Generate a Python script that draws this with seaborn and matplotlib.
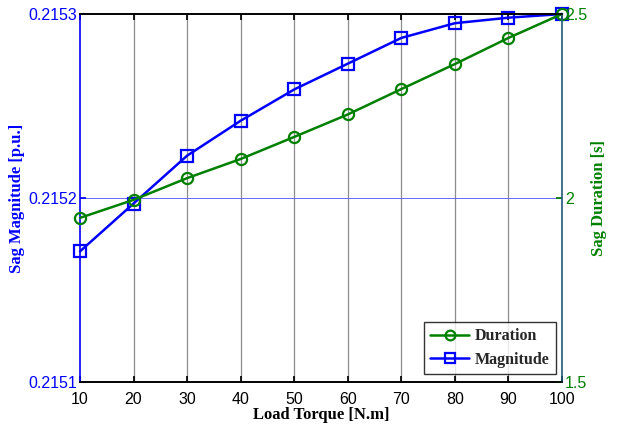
import matplotlib
matplotlib.use("Agg")
import matplotlib.pyplot as plt
import seaborn as sns
import pandas as pd
from matplotlib.lines import Line2D

# Load torque sweep and resulting sag characteristics
torque = [10, 20, 30, 40, 50, 60, 70, 80, 90, 100]
magnitude = [0.215171, 0.215197, 0.215223, 0.215242, 0.215259,
             0.215273, 0.215287, 0.215295, 0.215298, 0.215300]
duration = [1.946, 1.995, 2.054, 2.106, 2.166, 2.227, 2.296, 2.364, 2.435, 2.500]

x_ticks = [10, 20, 30, 40, 50, 60, 70, 80, 90, 100]
mag_ticks = [0.2151, 0.2152, 0.2153]
mag_tick_labels = ["0.2151", "0.2152", "0.2153"]
dur_ticks = [1.5, 2.0, 2.5]
dur_tick_labels = ["1.5", "2", "2.5"]

df = pd.DataFrame({"torque": torque, "magnitude": magnitude, "duration": duration})

sns.set_theme(style="white")
plt.rcParams["font.family"] = ["Liberation Sans", "DejaVu Sans"]

blue = "#0000ff"
green = "#008000"
serif = ["Liberation Serif", "DejaVu Serif"]

fig = plt.figure(figsize=(6.2, 4.28), dpi=100)
ax = fig.add_axes([80 / 620, 46 / 428, 482 / 620, 368 / 428])
ax2 = ax.twinx()

# vertical grid at each torque value, single horizontal guide at mid level
for xv in x_ticks[1:-1]:
    ax.axvline(xv, color="#8c8c8c", lw=0.9, zorder=0)
ax.axhline(mag_ticks[1], color="#5050ff", lw=0.6, zorder=0)

sns.lineplot(data=df, x="torque", y="magnitude", ax=ax, color=blue, lw=1.8,
             marker="s", markersize=8, markerfacecolor="none",
             markeredgecolor=blue, markeredgewidth=1.6, clip_on=False)
sns.lineplot(data=df, x="torque", y="duration", ax=ax2, color=green, lw=1.8,
             marker="o", markersize=8, markerfacecolor="none",
             markeredgecolor=green, markeredgewidth=1.6, clip_on=False)

ax.set_xlim(10, 100)
ax.set_ylim(0.2151, 0.2153)
ax2.set_ylim(1.5, 2.5)

ax.set_xticks(x_ticks)
ax.set_xticklabels([str(t) for t in x_ticks], fontsize=11.5, color="black")
ax.set_yticks(mag_ticks)
ax.set_yticklabels(mag_tick_labels, fontsize=11.5, color=blue)
ax2.set_yticks(dur_ticks)
ax2.set_yticklabels(dur_tick_labels, fontsize=11.5, color=green)

ax.tick_params(axis="x", direction="in", length=4, top=True, bottom=True,
               color="black", pad=7)
ax.tick_params(axis="y", direction="in", length=4, color=blue, pad=2)
ax2.tick_params(axis="y", direction="in", length=4, color=green, pad=2)

ax.set_xlabel("Load Torque [N.m]", fontsize=12, fontweight="bold",
              family=serif, color="black", labelpad=0)
ax.set_ylabel("Sag Magnitude [p.u.]", fontsize=12, fontweight="bold",
              family=serif, color=blue)
ax2.set_ylabel("Sag Duration [s]", fontsize=12, fontweight="bold",
               family=serif, color=green)
ax.yaxis.set_label_coords(-0.115, 0.5)
ax2.yaxis.set_label_coords(1.06, 0.5)

for a in (ax, ax2):
    for s in a.spines.values():
        s.set_linewidth(1.2)
        s.set_color("black")
ax.spines["left"].set_color(blue)
ax2.spines["left"].set_visible(False)
ax2.spines["right"].set_color("#1f5a78")
ax.spines["right"].set_visible(False)

handles = [
    Line2D([], [], color=green, lw=1.8, marker="o", markersize=7,
           markerfacecolor="none", markeredgewidth=1.6),
    Line2D([], [], color=blue, lw=1.8, marker="s", markersize=7,
           markerfacecolor="none", markeredgewidth=1.6),
]
leg = ax2.legend(handles, ["Duration", "Magnitude"], loc="lower right",
                 bbox_to_anchor=(0.988, 0.022), frameon=True, fancybox=False,
                 prop={"family": serif, "weight": "bold", "size": 11.5},
                 handlelength=2.4, borderpad=0.4, labelspacing=0.45,
                 handletextpad=0.4, borderaxespad=0.0)
leg.get_frame().set_edgecolor("black")
leg.get_frame().set_linewidth(1.0)

fig.savefig("out.png", dpi=100, facecolor="white")
